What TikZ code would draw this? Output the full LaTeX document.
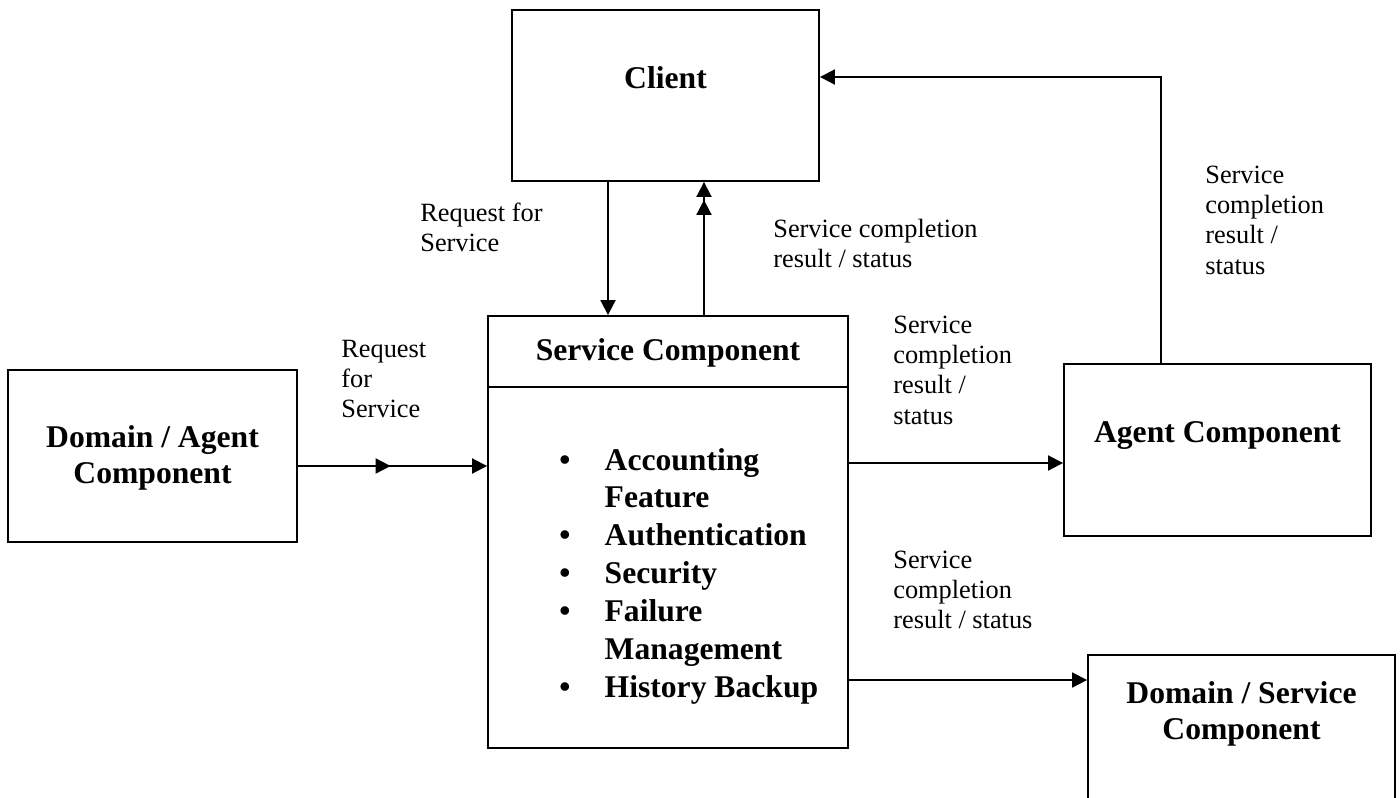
\documentclass[tikz,border=0pt]{standalone}
\usepackage{fontspec}
\setmainfont{Liberation Serif}
\usetikzlibrary{arrows.meta,decorations.markings}

\tikzset{
    box/.style={draw, line width=1.1pt, minimum width=6.14cm, minimum height=3.44cm, inner sep=0pt},
    title/.style={font=\fontsize{18}{20.5}\selectfont\bfseries, inner sep=0pt, anchor=base},
    note/.style={font=\fontsize{15}{17.3}\selectfont, inner sep=0pt, anchor=base west},
    arr/.style={line width=1.1pt, -{Triangle[length=0.3cm,width=0.3cm]}},
    midarrow/.style={decoration={markings, mark=at position 0.49 with {\arrow{Triangle[length=0.3cm,width=0.3cm]}}}, postaction={decorate}},
}
\newcommand{\rows}[2][l]{\begin{tabular}[t]{@{}#1@{}}#2\end{tabular}}

\begin{document}
\begin{tikzpicture}[x=0.02cm, y=-0.02cm]
                \useasboundingbox (0,0) rectangle (1400,798);
                % boxes
                \node[box, minimum height=3.42cm] (client) at (665.5,95.5) {};
                \node[box, minimum width=7.2cm, minimum height=8.64cm] (svc) at (668,532) {};
                \node[box, minimum width=5.78cm] (dagent) at (152.5,456) {};
                \node[box] (agent) at (1217.5,450) {};
                \node[box] (dservice) at (1241.5,741) {};
                \draw[line width=1.1pt] ([yshift=-1.44cm]svc.north west) -- ([yshift=-1.44cm]svc.north east);
                % titles
                \node[title] (clienttxt) at (665.5,88) {Client};
                \node[title] (svctxt) at (668,360) {Service Component};
                \node[title] (dagenttxt) at (152.5,447) {\rows[c]{Domain / Agent\\Component}};
                \node[title] (agenttxt) at (1217.5,442) {Agent Component};
                \node[title] (dservicetxt) at (1241.5,703) {\rows[c]{Domain / Service\\Component}};
                \node[note, font=\fontsize{18}{21.6}\selectfont\bfseries] (feat) at (559,470) {\begin{tabular}[t]{@{}l@{\hspace{19.5pt}}l@{}}
                    \textbullet & Accounting\\ & Feature\\
                    \textbullet & Authentication\\
                    \textbullet & Security\\
                    \textbullet & Failure\\ & Management\\
                    \textbullet & History Backup
                \end{tabular}};
                % labels
                \node[note] (req1) at (420,221) {\rows{Request for\\Service}};
                \node[note] (done1) at (773,237) {\rows{Service completion\\result / status}};
                \node[note] (req2) at (341,357) {\rows{Request\\for\\Service}};
                \node[note] (done2) at (893,333) {\rows{Service\\completion\\result /\\status}};
                \node[note] (done3) at (893,568) {\rows{Service\\completion\\result / status}};
                \node[note] (done4) at (1205,183) {\rows{Service\\completion\\result /\\status}};
                % connectors
                \draw[arr] ([xshift=-1.15cm]client.south) -- ([xshift=-1.15cm]client.south |- svc.north);
                \draw[line width=1.1pt, -{Triangle[length=0.3cm,width=0.3cm,sep=0.06cm] Triangle[length=0.3cm,width=0.3cm]}] ([xshift=0.77cm]client.south |- svc.north) -- ([xshift=0.77cm]client.south);
                \draw[arr, midarrow] ([yshift=-0.2cm]dagent.east) -- ([yshift=-0.2cm]dagent.east -| svc.west);
                \draw[arr] ([yshift=-0.26cm]agent.west -| svc.east) -- ([yshift=-0.26cm]agent.west);
                \draw[arr] ([yshift=1.22cm]dservice.west -| svc.east) -- ([yshift=1.22cm]dservice.west);
                \draw[arr] ([xshift=-1.13cm]agent.north) |- ([yshift=0.37cm]client.east);
            \end{tikzpicture}
\end{document}
